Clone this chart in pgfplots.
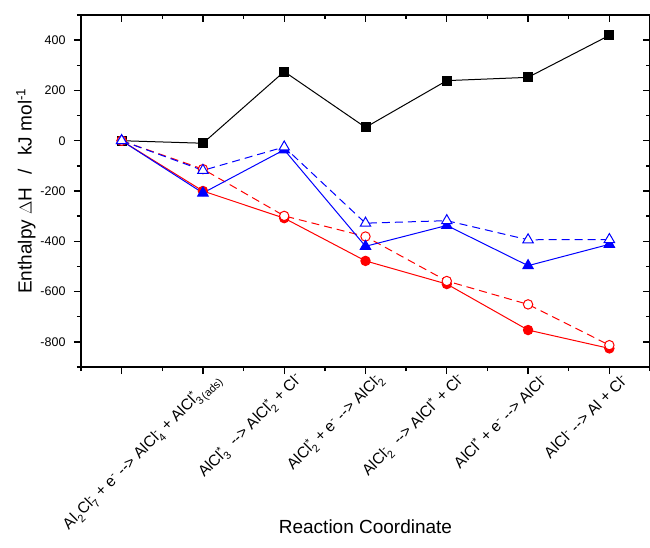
\documentclass[border=0pt]{standalone}
\usepackage{fontspec}
\setmainfont{Liberation Sans}
\usepackage{amsmath}
\usepackage{pgfplots}
\pgfplotsset{compat=1.18}
\newcommand{\sps}[2]{\ensuremath{^{\text{#2}}_{\text{#1}}}}
\newcommand{\sP}[1]{\ensuremath{^{\text{#1}}}}
\newcommand{\arr}{-{}-{}>}

\pgfplotstableread{
x A B C D E
0 0 0 0 0 0
1 -10 -208 -118 -200 -113
2 275 -36 -25 -308 -299
3 53 -420 -328 -478 -381
4 239 -337 -318 -570 -558
5 252 -497 -394 -753 -651
6 419 -412 -393 -826 -813
}\data

\pgfplotsset{
  common/.style={
    scale only axis, width=569pt, height=352pt,
    xmin=-0.5, xmax=6.5, ymin=-900, ymax=500,
    xtick={0,...,6}, minor xtick={-0.5,0.5,...,6.5},
    ytick={-800,-600,...,400}, minor ytick={-900,-700,...,500},
    axis line style={line width=1.5pt},
    major tick length=7pt, minor tick length=4pt,
    every tick/.style={black, line width=1.3pt},
    /pgf/number format/assume math mode=true,
  }
}

\begin{document}
\begin{tikzpicture}
\begin{axis}[common,
  axis x line*=bottom, axis y line*=left,
  tick align=outside,
  xticklabels={{},
    {Al\sps{2}{}Cl\sps{7}{-} + e\sP{-} \arr{} AlCl\sps{4}{-} + AlCl$^{\text{*}}_{\text{3\,(ads)}}$},
    {AlCl\sps{3}{*}\ \ \arr{} AlCl\sps{2}{*} + Cl\sP{-}},
    {AlCl\sps{2}{*} + e\sP{-} \arr{} AlCl\sps{2}{-}},
    {AlCl\sps{2}{-}\ \ \arr{} AlCl\sP{*} + Cl\sP{-}},
    {AlCl\sP{*} + e\sP{-} \arr{} AlCl\sP{-}},
    {AlCl\sP{-} \arr{} Al + Cl\sP{-}}},
  xticklabel style={rotate=45, anchor=east, inner sep=0pt, xshift=9pt, yshift=-13pt,
    font=\fontsize{15.5}{17}\selectfont},
  yticklabel style={font=\fontsize{12.5}{14}\selectfont, xshift=-5pt},
  xlabel={Reaction Coordinate},
  ylabel={Enthalpy $\Delta$H\hspace{0.7em}/\hspace{0.7em}kJ mol\sP{-1}},
  xlabel style={at={(axis description cs:0.5,-0.4545)}, anchor=center, font=\fontsize{19}{22}\selectfont},
  ylabel style={at={(axis description cs:-0.0967,0.5)}, anchor=center, font=\fontsize{19}{22}\selectfont},
  clip=false,
]
\addplot[black, line width=1pt, mark=square*, mark size=4.5pt, mark options={solid, fill=black}] table[x=x, y=A] {\data};
\addplot[red, line width=1pt, mark=*, mark size=4.7pt, mark options={solid, fill=red}] table[x=x, y=D] {\data};
\addplot[red, line width=1pt, dash pattern=on 8pt off 5pt, mark=*, mark size=4.7pt, mark options={solid, fill=white}] table[x=x, y=E] {\data};
\addplot[blue, line width=1pt, mark=triangle*, mark size=6pt, mark options={solid, fill=blue}] table[x=x, y=B] {\data};
\addplot[blue, line width=1pt, dash pattern=on 8pt off 5pt, mark=triangle*, mark size=6pt, mark options={solid, fill=white}] table[x=x, y=C] {\data};
\end{axis}
\begin{axis}[common,
  axis x line*=top, axis y line*=right,
  tick align=inside,
  xticklabels={}, yticklabels={},
]
\end{axis}
\pgfresetboundingbox
\path (-81pt,-180pt) rectangle (569pt,367pt);
\end{tikzpicture}
\end{document}
